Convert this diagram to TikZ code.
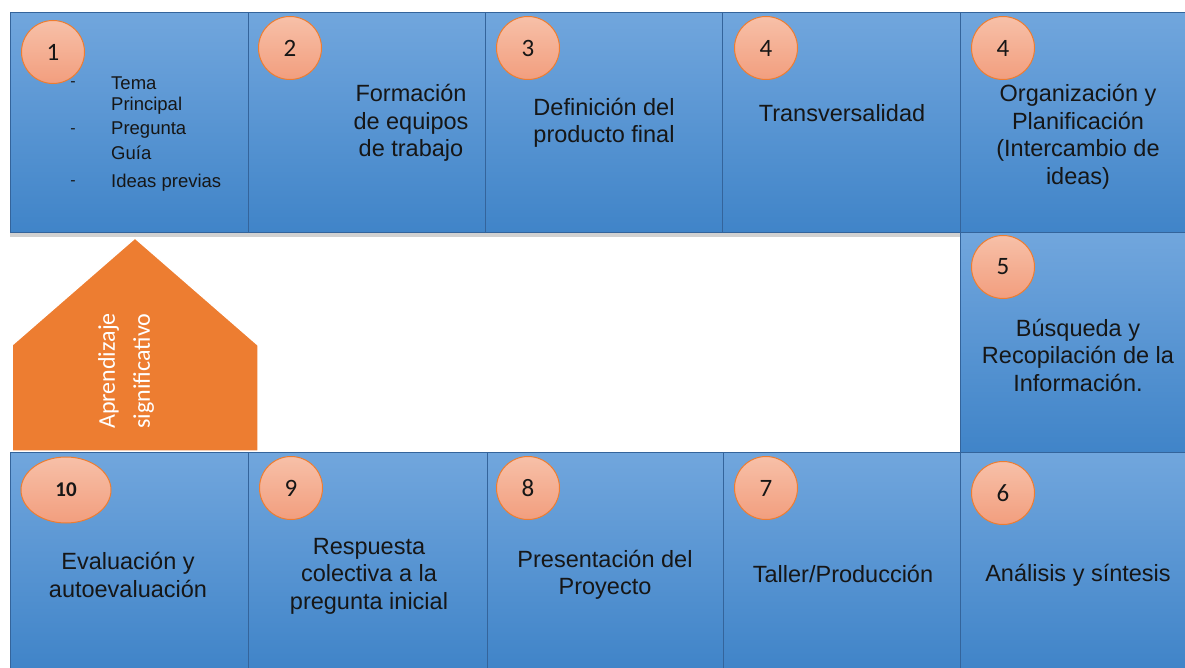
\documentclass[tikz,border=0pt]{standalone}
\usepackage{fontspec}
\setmainfont{Liberation Sans}
\newfontfamily\numfont{Carlito}
\usetikzlibrary{shapes.geometric}
\definecolor{boxtop}{RGB}{113,166,221}
\definecolor{boxbot}{RGB}{64,132,200}
\definecolor{boxline}{RGB}{52,100,155}
\definecolor{circtop}{RGB}{247,192,168}
\definecolor{circbot}{RGB}{242,158,126}
\definecolor{circline}{RGB}{237,125,49}
\definecolor{orangefill}{RGB}{237,125,49}
\definecolor{txt}{RGB}{22,22,22}
\begin{document}
\begin{tikzpicture}[x=1pt,y=-1pt,
  stagebox/.style={draw=boxline, line width=1pt, top color=boxtop, bottom color=boxbot,
    inner sep=0pt, anchor=north west, minimum height=220pt},
  num/.style={circle, draw=circline, line width=1pt, top color=circtop, bottom color=circbot,
    minimum size=63pt, inner sep=0pt, text=txt, font=\numfont\fontsize{25}{25}\selectfont},
  numell/.style={ellipse, draw=circline, line width=1pt, top color=circtop, bottom color=circbot,
    minimum width=90pt, minimum height=66pt, inner sep=0pt, text=txt, font=\numfont\fontsize{21}{21}\selectfont},
  stagetext/.style={align=center, inner sep=0pt, text=txt, font=\fontsize{23.5}{27.5}\selectfont},
  itemtext/.style={anchor=west, inner sep=0pt, text=txt, font=\fontsize{18.5}{22}\selectfont},
  dashtext/.style={inner sep=0pt, text=txt, font=\fontsize{16}{16}\selectfont}]
\useasboundingbox (0,0) rectangle (1185,668);
\fill[white] (0,0) rectangle (1185,668);
% shadow under top row
\fill[black, opacity=0.18] (10,232) rectangle (960,237);
% top row
\node[stagebox, minimum width=238pt] (b1) at (10,12) {};
\node[stagebox, minimum width=237pt] (b2) at (248,12) {};
\node[stagebox, minimum width=237pt] (b3) at (485,12) {};
\node[stagebox, minimum width=238pt] (b4) at (722,12) {};
\node[stagebox, minimum width=225pt] (b4b) at (960,12) {};
% right column
\node[stagebox, minimum width=225pt] (b5) at (960,232) {};
% bottom row
\node[stagebox, minimum width=238pt, minimum height=216pt] (b10) at (10,452) {};
\node[stagebox, minimum width=239pt, minimum height=216pt] (b9) at (248,452) {};
\node[stagebox, minimum width=236pt, minimum height=216pt] (b8) at (487,452) {};
\node[stagebox, minimum width=237pt, minimum height=216pt] (b7) at (723,452) {};
\node[stagebox, minimum width=225pt, minimum height=216pt] (b6) at (960,452) {};
% orange pentagon
\path[fill=orangefill, draw=white, line width=1.5pt]
  (12,451) -- (12,345) -- (135,238) -- (258,345) -- (258,451) -- cycle;
\node[rotate=90, align=center, inner sep=0pt, text=white,
  font=\numfont\fontsize{24}{35}\selectfont] (ap) at (126,371) {Aprendizaje\\significativo};
% circles
\node[num] (c1) at (53,52) {1};
\node[num] (c2) at (290,48) {2};
\node[num] (c3) at (528,48) {3};
\node[num] (c4) at (766,48) {4};
\node[num] (c4b) at (1003,48) {4};
\node[num] (c5) at (1003,267) {5};
\node[numell] (c10) at (66,490) {\textbf{10}};
\node[num] (c9) at (291,488) {9};
\node[num] (c8) at (528,488) {8};
\node[num] (c7) at (766,488) {7};
\node[num] (c6) at (1003,493) {6};
% box 1 list
\node[dashtext] (d1) at (73,84) {-};
\node[dashtext] (d2) at (73,131) {-};
\node[dashtext] (d3) at (73,183) {-};
\node[itemtext] (i1) at (111,83) {Tema};
\node[itemtext] (i2) at (111,106) {Principal};
\node[itemtext] (i3) at (111,130) {Pregunta};
\node[itemtext] (i4) at (111,153) {Guía};
\node[itemtext] (i5) at (111,183) {Ideas previas};
% stage texts
\node[stagetext] (t2) at (411,123) {Formación\\de equipos\\de trabajo};
\node[stagetext] (t3) at (604,123) {Definición del\\producto final};
\node[stagetext] (t4) at (842,113) {Transversalidad};
\node[stagetext] (t4b) at (1078,137) {Organización y\\Planificación\\(Intercambio de\\ideas)};
\node[stagetext] (t5) at (1078,355) {Búsqueda y\\Recopilación de la\\Información.};
\node[stagetext] (t10) at (128,575) {Evaluación y\\autoevaluación};
\node[stagetext] (t9) at (369,576) {Respuesta\\colectiva a la\\pregunta inicial};
\node[stagetext] (t8) at (605,575) {Presentación del\\Proyecto};
\node[stagetext] (t7) at (843,574) {Taller/Producción};
\node[stagetext] (t6) at (1078,575) {Análisis y síntesis};
\end{tikzpicture}
\end{document}
